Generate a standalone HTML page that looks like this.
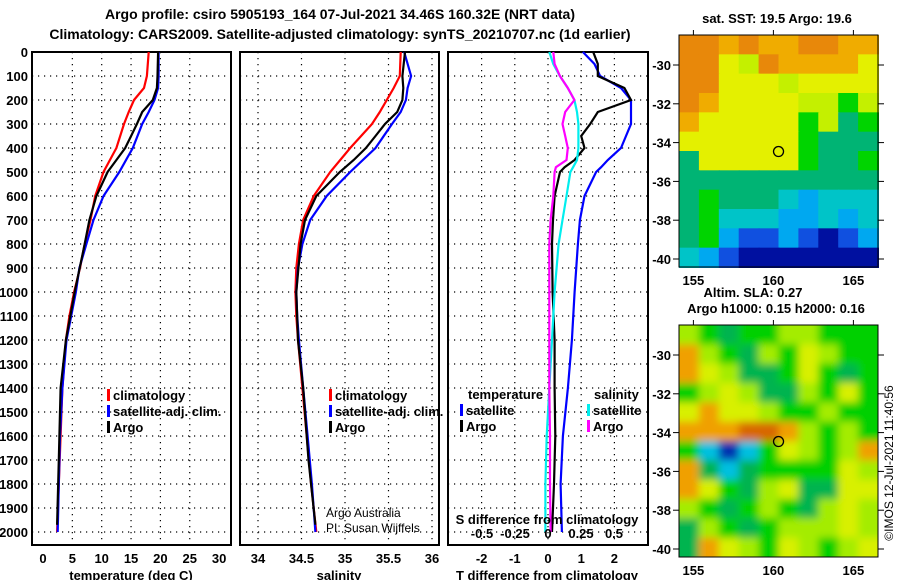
<!DOCTYPE html>
<html><head><meta charset="utf-8"><style>
html,body{margin:0;padding:0;background:#fff;}
svg{display:block;font-family:"Liberation Sans",Arial,sans-serif;}
.t{font-weight:bold;font-size:13px;fill:#000;}
.tt{font-weight:bold;font-size:14px;fill:#000;}
.n{font-size:12px;fill:#000;}
</style></head><body>
<svg id="chart" width="900" height="580" viewBox="0 0 900 580">
<defs>
<filter id="blur" x="0" y="0" width="1" height="1"><feGaussianBlur stdDeviation="4"/></filter>
<clipPath id="clip2"><rect x="679" y="325" width="199" height="232"/></clipPath>
</defs>
<text class="tt" x="340" y="19" text-anchor="middle">Argo profile: csiro 5905193_164 07-Jul-2021 34.46S 160.32E (NRT data)</text>
<text class="tt" x="340" y="39" text-anchor="middle">Climatology: CARS2009. Satellite-adjusted climatology: synTS_20210707.nc (1d earlier)</text>
<g id="g"></g>
</svg>
<script>
// ---- data ----
const depthsT = [0,100,150,200,250,300,400,500,600,700,800,900,1000,1100,1200,1400,1600,1800,2000];
const tempClim = [18.0,17.7,17.2,15.5,14.6,13.8,12.5,10.3,8.9,8.1,7.1,6.3,5.3,4.5,3.9,3.3,3.0,2.7,2.4];
const tempSat  = [19.7,19.7,19.6,19.0,18.0,16.9,15.3,13.0,10.3,8.6,7.4,6.2,5.6,4.8,4.0,3.3,2.9,2.7,2.5];
const depthsArgo = [0,100,150,200,250,300,350,400,450,500,600,700,800,1000,1200,1400,1700,1970];
const tempArgo = [19.6,19.5,19.4,18.7,16.9,16.0,15.0,14.0,12.5,11.0,9.1,7.9,7.1,5.4,3.9,3.0,2.7,2.4];
const salClim = [35.64,35.63,35.56,35.48,35.40,35.31,35.06,34.83,34.64,34.52,34.47,34.44,34.43,34.44,34.46,34.51,34.56,34.61,34.67];
const salSat  = [35.68,35.76,35.72,35.70,35.64,35.54,35.35,35.06,34.79,34.60,34.51,34.46,34.44,34.45,34.47,34.52,34.57,34.62,34.66];
const salArgo = [35.69,35.66,35.67,35.66,35.60,35.46,35.35,35.24,35.10,34.94,34.67,34.54,34.49,34.44,34.46,34.52,34.58,34.66];
const depthsD = [0,50,100,150,200,250,300,350,400,450,480,500,600,700,800,1000,1200,1400,1600,1800,2000];
const dTsat  = [1.05,1.4,1.57,2.2,2.5,2.5,2.5,2.35,2.2,1.8,1.6,1.45,1.1,0.96,0.9,0.8,0.72,0.6,0.45,0.38,0.42];
const dTargo = [1.36,1.5,1.5,2.3,2.5,1.5,1.27,1.0,1.1,0.8,0.5,0.36,0.2,0.15,0.12,0.14,0.2,0.2,0.22,0.18,0.12];
const dSsat  = [0.01,0.04,0.09,0.15,0.2,0.22,0.23,0.23,0.23,0.22,0.19,0.17,0.14,0.11,0.08,0.05,0.03,0.01,-0.01,-0.02,-0.02];
const dSargo = [0.04,0.05,0.09,0.15,0.2,0.13,0.11,0.13,0.15,0.14,0.06,0.05,0.04,0.02,0.01,0.01,0.01,0.01,0.015,0.015,0.02];
const depthTicks = [0,100,200,300,400,500,600,700,800,900,1000,1100,1200,1300,1400,1500,1600,1700,1800,1900,2000];
const tTicks = [0,5,10,15,20,25,30];
const sTicks = [34,34.5,35,35.5,36];
const dTTicks = [-2,-1,0,1,2];
const dSTicks = [-0.5,-0.25,0,0.25,0.5];
const dSTickLabels = ['-0.5','-0.25','0','0.25','0.5'];
const latTicks = [-30,-32,-34,-36,-38,-40];
const lonTicks = [155,160,165];
// ---- helpers ----
const NS='http://www.w3.org/2000/svg';
const G=document.getElementById('g');
function mk(tag,attrs,parent){const e=document.createElementNS(NS,tag);for(const k in attrs)e.setAttribute(k,attrs[k]);(parent||G).appendChild(e);return e;}
const yD=d=>52+d*0.24;
const xT=v=>43+v*5.87;
const xS=v=>258+(v-34)*87;
const xdT=v=>548+v*33.2;
const xdS=v=>548+v*132;
function panel(name,x0,x1,gridXs){
  const g=mk('g',{});
  
  
  depthTicks.forEach(d=>{const l=mk('line',{x1:x0,x2:x1,y1:yD(d),y2:yD(d),stroke:'#000','stroke-width':1.2,'stroke-dasharray':'1.2,4.8'},g);});
  gridXs.forEach(x=>{const l=mk('line',{x1:x,x2:x,y1:52,y2:545,stroke:'#000','stroke-width':1.2,'stroke-dasharray':'1.2,4.8'},g);});
  const r=mk('rect',{x:x0,y:52,width:x1-x0,height:493,fill:'none',stroke:'#000','stroke-width':2},g);
  
  return g;
}
function line(g,name,xs,ys,color){
  const p=mk('polyline',{points:xs.map((x,i)=>x.toFixed(1)+','+ys[i].toFixed(1)).join(' '),fill:'none',stroke:color,'stroke-width':2.2},g);
  
}
function txt(s,x,y,cls,anchor,name,parent){const t=mk('text',{x:x,y:y,'class':cls,'text-anchor':anchor||'start'},parent);t.textContent=s;return t;}
function legend(g,x,y,color,label){
  const m=mk('rect',{x:x,y:y-11,width:3,height:12,fill:color},g);
  
  txt(label,x+6,y,'t','start','legend-entry',g);
}
depthTicks.forEach(d=>txt(String(d),28,yD(d)+5,'t','end','y-tick-label'));
const p1=panel('temperature-panel',32,231,tTicks.slice(1,6).map(xT));
line(p1,'temp-climatology-line',tempClim.map(xT),depthsT.map(yD),'#f00');
line(p1,'temp-satellite-line',tempSat.map(xT),depthsT.map(yD),'#00f');
line(p1,'temp-argo-line',tempArgo.map(xT),depthsArgo.map(yD),'#000');
tTicks.forEach(v=>txt(String(v),xT(v),563,'t','middle','x-tick-label'));
txt('temperature (deg C)',131,580,'t','middle','x-axis-title');
legend(p1,107,400,'#f00','climatology');legend(p1,107,416,'#00f','satellite-adj. clim.');legend(p1,107,432,'#000','Argo');
const p2=panel('salinity-panel',240,439,sTicks.slice(0,5).map(xS));
line(p2,'sal-climatology-line',salClim.map(xS),depthsT.map(yD),'#f00');
line(p2,'sal-satellite-line',salSat.map(xS),depthsT.map(yD),'#00f');
line(p2,'sal-argo-line',salArgo.map(xS),depthsArgo.map(yD),'#000');
sTicks.forEach(v=>txt(String(v),xS(v),563,'t','middle','x-tick-label'));
txt('salinity',339,580,'t','middle','x-axis-title');
legend(p2,329,400,'#f00','climatology');legend(p2,329,416,'#00f','satellite-adj. clim.');legend(p2,329,432,'#000','Argo');
txt('Argo Australia',326,517,'n','start','credit-line-1',p2);
txt('PI: Susan Wijffels',326,532,'n','start','credit-line-2',p2);
const p3=panel('difference-panel',448,648,dTTicks.map(xdT));
line(p3,'dT-satellite-line',dTsat.map(xdT),depthsD.map(yD),'#00f');
line(p3,'dT-argo-line',dTargo.map(xdT),depthsD.map(yD),'#000');
line(p3,'dS-satellite-line',dSsat.map(xdS),depthsD.map(yD),'#0ee');
line(p3,'dS-argo-line',dSargo.map(xdS),depthsD.map(yD),'#f0f');
dTTicks.forEach(v=>txt(String(v),xdT(v),563,'t','middle','x-tick-label'));
txt('T difference from climatology',547,580,'t','middle','x-axis-title');
txt('S difference from climatology',547,524,'t','middle','s-axis-title',p3);
dSTicks.forEach((v,i)=>txt(dSTickLabels[i],xdS(v),538,'t','middle','s-tick-label',p3));
txt('temperature',468,399,'t','start','legend-title',p3);
legend(p3,460,415,'#00f','satellite');legend(p3,460,431,'#000','Argo');
txt('salinity',594,399,'t','start','legend-title',p3);
legend(p3,587,415,'#0ee','satellite');legend(p3,587,431,'#f0f','Argo');
// ---- maps ----
const map1Rows=['OOoOooOOoo','OOYyOooooY','OOYYYyYYYY','OoYYYYyyGy','oYYYYYGygG','YYYYYYGggg','gYYYYYGggG','gggggggggg','gGgggcbccc','gGcccbbcbc','gGbBBbBNBb','cbBNNNNNNN'];
const map1Col={O:'#e8880a',o:'#f0ac00',Y:'#e4f000',y:'#c4f000',G:'#00d400',g:'#00b474',c:'#00c4c8',b:'#00a8f0',B:'#1050e0',N:'#0010a0'};
const map2Rows=['LGDGGLLGGG','OLGDLGYLGG','OYLDDGYGDG','GLYLDDLGYG','YOYYLGGLGG','OOORROLGLG','GCBCGYLGLO','ODCDGGGGYL','OYGDLYDDYY','LGDGLGDLYL','DLGDGLLLYL','DOYLGYLGLY'];
const map2Col={Y:'#d8f000',L:'#a4ec00',G:'#00d000',D:'#00b450',O:'#f0a000',R:'#d86800',C:'#00c0e0',B:'#0030b0'};
const xLon=v=>679+(v-154.1)*16;
function drawMap(name,top,rows,cols,blur){
  const g=mk('g',{});
  
  const inner=mk('g',blur?{filter:'url(#blur)'}:{},blur?mk('g',{'clip-path':'url(#clip2)'},g):g);
  const yLat=v=>top+30+(-30-v)*19.4;
  const cw=199/10,ch=232/12;
  rows.forEach((r,i)=>{for(let j=0;j<10;j++){const e=mk('rect',{x:679+j*cw-(blur&&j==0?10:0),y:top+i*ch-(blur&&i==0?10:0),width:cw+1+(blur&&(j==0||j==9)?10:0),height:ch+1+(blur&&(i==0||i==11)?10:0),fill:cols[r[j]]},inner);}});
  const f=mk('rect',{x:679,y:top,width:199,height:232,fill:'none',stroke:'#000','stroke-width':1},g);
  
  latTicks.forEach(v=>{mk('line',{x1:673,x2:679,y1:yLat(v),y2:yLat(v),stroke:'#000'},g);mk('line',{x1:878,x2:884,y1:yLat(v),y2:yLat(v),stroke:'#000'},g);txt(String(v),671,yLat(v)+5,'t','end','lat-label',g);});
  lonTicks.forEach(v=>{mk('line',{x1:xLon(v),x2:xLon(v),y1:top-5,y2:top,stroke:'#000'},g);txt(String(v),xLon(v),top+250,'t','middle','lon-label',g);});
  const c=mk('circle',{cx:xLon(160.32),cy:yLat(-34.46),r:5,fill:'none',stroke:'#000','stroke-width':1.3},g);
  
}
drawMap('sst-map',35,map1Rows,map1Col,false);
drawMap('sla-map',325,map2Rows,map2Col,true);
txt('sat. SST: 19.5 Argo: 19.6',777,23,'t','middle','sst-map-title');
txt('Altim. SLA: 0.27',753,297,'t','middle','sla-map-title-1');
txt('Argo h1000: 0.15 h2000: 0.16',776,313,'t','middle','sla-map-title-2');
const cp=txt('©IMOS 12-Jul-2021 11:40:56',0,0,'n','middle','timestamp');
cp.setAttribute('transform','translate(893,463) rotate(-90)');
</script>
</body></html>
